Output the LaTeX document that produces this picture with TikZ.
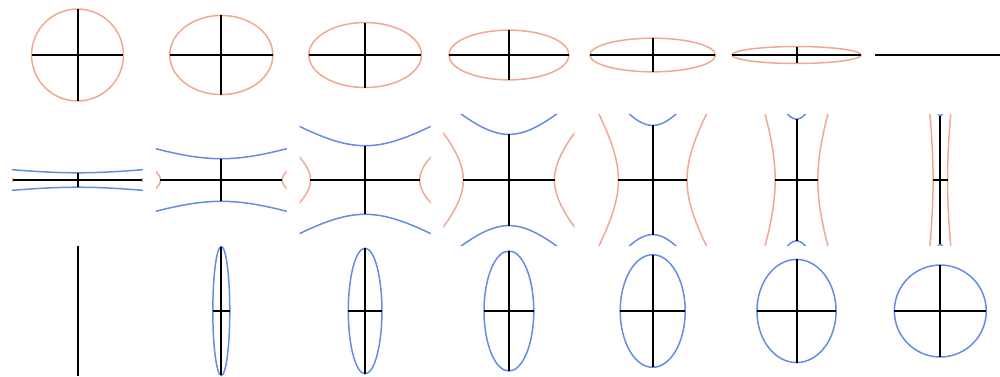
\documentclass[tikz,border=0pt]{standalone}
\definecolor{conicorange}{RGB}{238,170,145}
\definecolor{conicblue}{RGB}{100,140,228}
\begin{document}
\begin{tikzpicture}[x=1pt,y=-1pt,
  axisline/.style={black, line width=2pt},
  orangecurve/.style={conicorange, line width=1.5pt},
  bluecurve/.style={conicblue, line width=1.5pt}]
\useasboundingbox (0,0) rectangle (1000,376);
\clip (0,0) rectangle (1000,376);
% Row 1: horizontal ellipses
\foreach \k in {1,...,7}{
  \pgfmathsetmacro\cx{77.5+143.8*(\k-1)}
  \pgfmathsetmacro\th{45-7.5*(\k-1)}
  \pgfmathsetmacro\ea{65*cos(\th)}
  \pgfmathsetmacro\eb{65*sin(\th)}
  \ifnum\k<7
    \draw[orangecurve] (\cx,55) ellipse [x radius=\ea, y radius=\eb];
    \draw[axisline] (\cx,55-\eb) -- (\cx,55+\eb);
  \fi
  \draw[axisline] (\cx-\ea,55) -- (\cx+\ea,55);
}
% Row 2: hyperbola pairs
\foreach \k in {1,...,7}{
  \pgfmathsetmacro\cx{77.5+143.8*(\k-1)}
  \pgfmathsetmacro\th{(\k-0.5)*90/7}
  \pgfmathsetmacro\hA{64.5*cos(\th)}
  \pgfmathsetmacro\hB{64.5*sin(\th)}
  \pgfmathsetmacro\xm{min(68,\hA*sqrt((68/\hB)*(68/\hB)-1))}
  \pgfmathsetmacro\ym{min(68,\hB*sqrt((68/\hA)*(68/\hA)-1))}
  \begin{scope}
    \clip (\cx-65.5,114.5) rectangle (\cx+65.5,245.5);
    \draw[bluecurve] plot[domain=-\xm:\xm, samples=120, smooth]
      ({\cx+\x}, {180-\hB*sqrt(1+(\x/\hA)*(\x/\hA))});
    \draw[bluecurve] plot[domain=-\xm:\xm, samples=120, smooth]
      ({\cx+\x}, {180+\hB*sqrt(1+(\x/\hA)*(\x/\hA))});
    \draw[orangecurve] plot[domain=-\ym:\ym, samples=120, smooth]
      ({\cx-\hA*sqrt(1+(\x/\hB)*(\x/\hB))}, {180+\x});
    \draw[orangecurve] plot[domain=-\ym:\ym, samples=120, smooth]
      ({\cx+\hA*sqrt(1+(\x/\hB)*(\x/\hB))}, {180+\x});
  \end{scope}
  \draw[axisline] (\cx-\hA,180) -- (\cx+\hA,180);
  \draw[axisline] (\cx,180-\hB) -- (\cx,180+\hB);
}
% Row 3: vertical ellipses
\foreach \k in {1,...,7}{
  \pgfmathsetmacro\cx{77.5+143.8*(\k-1)}
  \pgfmathsetmacro\th{7.5*(\k-1)}
  \pgfmathsetmacro\ea{65*sin(\th)}
  \pgfmathsetmacro\eb{65*cos(\th)}
  \ifnum\k>1
    \draw[bluecurve] (\cx,311) ellipse [x radius=\ea, y radius=\eb];
    \draw[axisline] (\cx-\ea,311) -- (\cx+\ea,311);
  \fi
  \draw[axisline] (\cx,311-\eb) -- (\cx,311+\eb);
}
\end{tikzpicture}
\end{document}
